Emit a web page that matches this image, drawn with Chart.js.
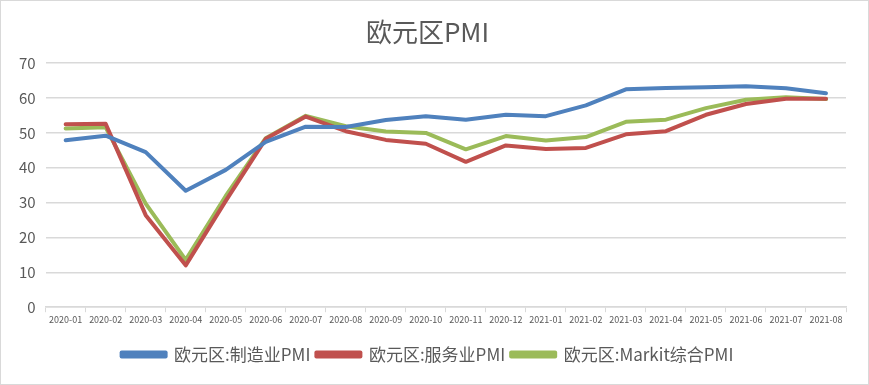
<!DOCTYPE html>
<html>
<head>
<meta charset="utf-8">
<script src="https://cdn.jsdelivr.net/npm/chart.js@4"></script>
<style>
  html, body { margin: 0; padding: 0; background: #fff; }
  #wrap { width: 869px; height: 385px; box-sizing: border-box; border: 1px solid #d9d9d9; position: relative; }
  canvas { display: block; }
</style>
</head>
<body>
<div id="wrap"><canvas id="pmiChart"></canvas></div>
<script>
// --- Eurozone PMI data ---
const months = ['2020-01','2020-02','2020-03','2020-04','2020-05','2020-06','2020-07','2020-08','2020-09','2020-10',
                '2020-11','2020-12','2021-01','2021-02','2021-03','2021-04','2021-05','2021-06','2021-07','2021-08'];
const manufacturing = [47.9, 49.2, 44.5, 33.4, 39.4, 47.4, 51.8, 51.7, 53.7, 54.8, 53.8, 55.2, 54.8, 57.9, 62.5, 62.9, 63.1, 63.4, 62.8, 61.4];
const services      = [52.5, 52.6, 26.4, 12.0, 30.5, 48.3, 54.7, 50.5, 48.0, 46.9, 41.7, 46.4, 45.4, 45.7, 49.6, 50.5, 55.2, 58.3, 59.8, 59.8];
const composite     = [51.3, 51.6, 29.7, 13.6, 31.9, 48.5, 54.9, 51.9, 50.4, 50.0, 45.3, 49.1, 47.8, 48.8, 53.2, 53.8, 57.1, 59.5, 60.2, 59.7];
const seriesNames = ['欧元区:制造业PMI', '欧元区:服务业PMI', '欧元区:Markit综合PMI'];

const get = (id) => document.getElementById(id);
const FONT = '"Microsoft YaHei", "Noto Sans CJK SC", "DejaVu Sans", sans-serif';

function mkSet(label, data, color) {
    return {
        label, data,
        borderColor: color,
        backgroundColor: color,
        borderWidth: 4,
        pointRadius: 0,
        tension: 0,
        borderCapStyle: 'round',
        borderJoinStyle: 'round'
    };
}

new Chart(get('pmiChart').getContext('2d'), {
    type: 'line',
    data: {
        labels: months,
        datasets: [
            mkSet(seriesNames[0], manufacturing, '#4f81bd'),
            mkSet(seriesNames[1], services, '#c0504d'),
            mkSet(seriesNames[2], composite, '#9bbb59')
        ]
    },
    options: {
        responsive: true,
        maintainAspectRatio: false,
        animation: false,
        layout: { padding: { left: 8, right: 22, top: 8, bottom: 11 } },
        plugins: {
            title: {
                display: true,
                text: '欧元区PMI',
                color: '#595959',
                font: { family: FONT, size: 26, weight: 'normal' },
                padding: { top: 8, bottom: 15 }
            },
            legend: {
                position: 'bottom',
                labels: {
                    color: '#595959',
                    font: { family: FONT, size: 17 },
                    boxWidth: 44,
                    boxHeight: 4,
                    padding: 6
                }
            },
            tooltip: { enabled: false }
        },
        scales: {
            x: {
                offset: true,
                grid: { display: true, drawOnChartArea: false, offset: true, tickLength: 5, color: '#d9d9d9' },
                border: { color: '#d9d9d9', width: 1.5 },
                ticks: { color: '#595959', font: { family: FONT, size: 9 }, maxRotation: 0, autoSkip: false, padding: 2 },
                afterFit: (scale) => { scale.height += 13; }
            },
            y: {
                min: 0, max: 70,
                grid: { color: '#d9d9d9', lineWidth: 1.5, drawTicks: false },
                border: { display: false },
                ticks: { stepSize: 10, color: '#595959', font: { family: FONT, size: 15 }, padding: 10 }
            }
        }
    }
});
</script>
</body>
</html>
